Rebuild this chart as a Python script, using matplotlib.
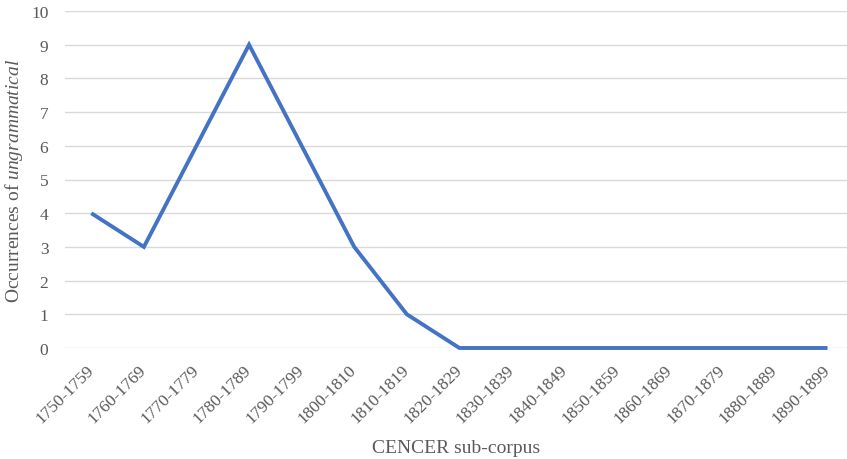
import matplotlib.pyplot as plt

decades = ["1750-1759", "1760-1769", "1770-1779", "1780-1789", "1790-1799",
           "1800-1810", "1810-1819", "1820-1829", "1830-1839", "1840-1849",
           "1850-1859", "1860-1869", "1870-1879", "1880-1889", "1890-1899"]
occurrences = [4, 3, 6, 9, 6, 3, 1, 0, 0, 0, 0, 0, 0, 0, 0]

plt.rcParams['font.family'] = ['Liberation Serif', 'DejaVu Serif']
plt.rcParams['mathtext.fontset'] = 'custom'
plt.rcParams['mathtext.rm'] = 'Liberation Serif'
plt.rcParams['mathtext.it'] = 'Liberation Serif:italic'

fig = plt.figure(figsize=(8.47, 4.6), dpi=100)
ax = fig.add_axes([65 / 847, 111 / 460, 1 - 65 / 847, 337 / 460])

x = list(range(len(decades)))
ax.plot(x, occurrences, color='#4472C4', linewidth=2.8, solid_capstyle='butt',
        solid_joinstyle='miter', zorder=3, clip_on=False)

ax.set_xlim(-0.5, 14.37)
ax.set_ylim(0, 10)
ax.set_yticks(range(0, 11))
ax.grid(axis='y', color='#d9d9d9', linewidth=1)
ax.set_axisbelow(True)
for s in ax.spines.values():
    s.set_visible(False)

ax.set_xticks(x)
ax.set_xticklabels(decades, rotation=45, ha='right', va='center',
                   rotation_mode='anchor')
ax.tick_params(axis='both', length=0, labelsize=12.5, labelcolor='#595959')
ax.tick_params(axis='x', pad=14)
ax.tick_params(axis='y', pad=12)

ax.set_xlabel("CENCER sub-corpus", fontsize=14, color='#595959', labelpad=9)
ax.set_ylabel("Occurrences of $\\it{ungrammatical}$", fontsize=14, color='#595959')
ax.yaxis.set_label_coords(-40 / 782, 0.5)

fig.savefig("out.png", dpi=100)
